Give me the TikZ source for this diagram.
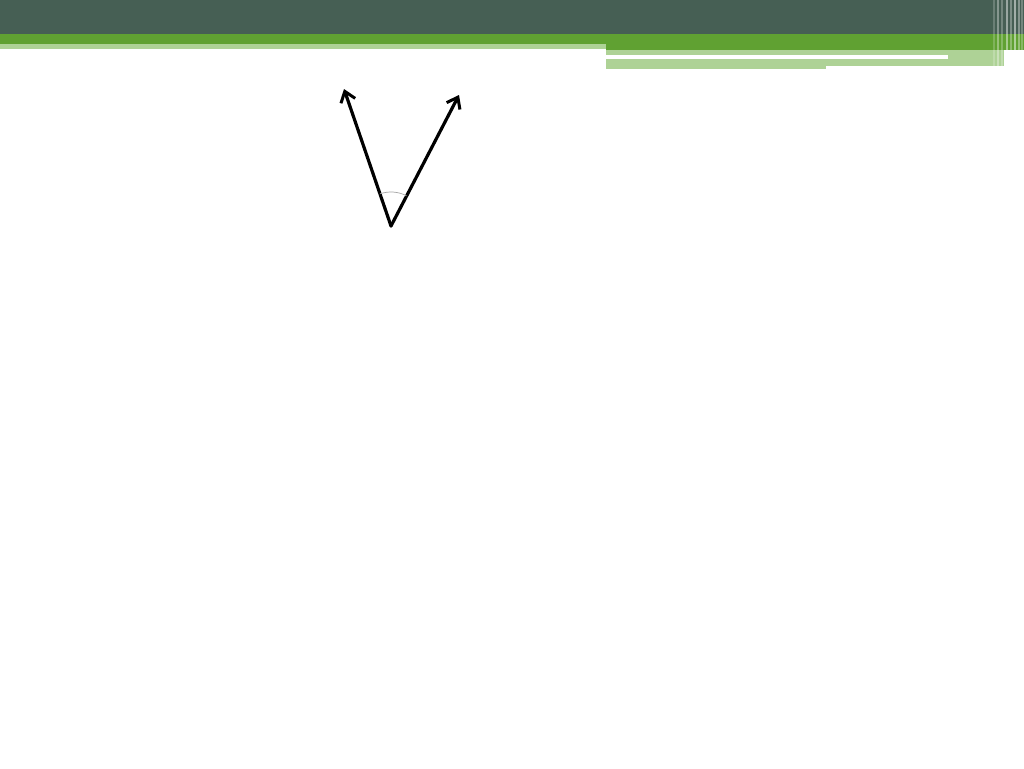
\documentclass[tikz,border=0pt]{standalone}
\usetikzlibrary{arrows.meta}
\definecolor{darkbar}{HTML}{465F54}
\definecolor{midgreen}{HTML}{60A132}
\definecolor{lightgreen}{HTML}{AED296}
\tikzset{
  vec/.style={line width=3.2pt, -{Straight Barb[length=10pt,width=15pt,line width=3pt]}, line cap=round, line join=round},
  anglemark/.style={line width=0.7pt, draw=gray!70}
}
\begin{document}
\begin{tikzpicture}[x=1pt,y=1pt]
\useasboundingbox (0,0) rectangle (1024,-768);
\fill[white] (0,0) rectangle (1024,-768);
% header bands
\fill[darkbar] (0,0) rectangle (1024,-34);
\fill[midgreen] (0,-34) rectangle (1024,-44);
\fill[midgreen] (606,-44) rectangle (1024,-50);
\fill[lightgreen] (0,-44) rectangle (606,-49);
\fill[lightgreen] (606,-50) rectangle (1004,-66);
\fill[lightgreen] (606,-66) rectangle (826,-69);
\fill[white] (606,-55.5) rectangle (948,-58.5);
% vertical stripes at right
\foreach \xx/\op in {993/0.2,997/0.35,1001/0.25,1006/0.45,1010/0.3,1014/0.5,1018/0.35,1021/0.25}{
  \fill[white, opacity=\op] (\xx,0) rectangle (\xx+1.5,-68);
}
% vectors
\coordinate (v) at (391,-226);
\coordinate (a) at (344,-89);
\coordinate (b) at (459,-95);
\draw[vec] (v) -- (a);
\draw[vec] (v) -- (b);
\draw[anglemark] ([shift={(63:34)}]v) arc[start angle=63, end angle=109, radius=34];
\end{tikzpicture}
\end{document}
